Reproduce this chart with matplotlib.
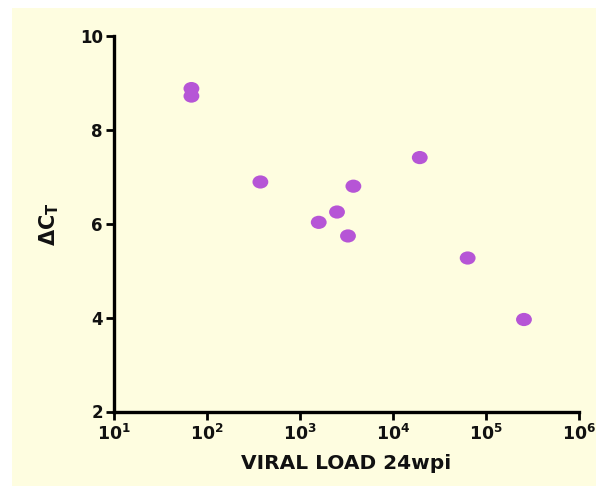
import math
import matplotlib
matplotlib.use("Agg")
import matplotlib.pyplot as plt
from matplotlib.patches import Rectangle
from matplotlib.path import Path
from matplotlib.ticker import FixedLocator, FuncFormatter, NullLocator

plt.rcParams['font.family'] = ['DejaVu Sans']
plt.rcParams['font.weight'] = 'bold'
plt.rcParams['mathtext.fontset'] = 'custom'
plt.rcParams['mathtext.rm'] = 'DejaVu Sans:bold'
plt.rcParams['mathtext.bf'] = 'DejaVu Sans:bold'
plt.rcParams['mathtext.it'] = 'DejaVu Sans:bold'

# viral load at 24 wpi vs delta Ct
viral_load = [68, 68, 375, 1590, 2500, 3280, 3750, 19400, 63500, 256000]
delta_ct = [8.88, 8.72, 6.89, 6.03, 6.25, 5.74, 6.80, 7.41, 5.27, 3.96]

x_ticks = [1e1, 1e2, 1e3, 1e4, 1e5, 1e6]
y_ticks = [2, 4, 6, 8, 10]

cream = '#fefde0'
purple = '#b655d6'
ink = '#111111'

fig = plt.figure(figsize=(5.96, 4.86), dpi=100)
fig.patch.set_facecolor('white')
fig.patches.append(Rectangle((12/596, 0), 1, 1 - 8/486, transform=fig.transFigure,
                             facecolor=cream, edgecolor='none', zorder=-10))

ax = fig.add_axes([114/596, 1 - 411.5/486, 465/596, 375.5/486])
ax.set_facecolor('none')

# slightly wide ellipse marker
circ = Path.unit_circle()
ell = Path(circ.vertices * [1.2, 1.0], circ.codes)
ax.scatter(viral_load, delta_ct, marker=ell, s=130, color=purple,
           edgecolors='none', zorder=3, clip_on=False)

ax.set_xscale('log')
ax.set_xlim(1e1, 1e6)
ax.set_ylim(2, 10)
ax.xaxis.set_major_locator(FixedLocator(x_ticks))
ax.xaxis.set_minor_locator(NullLocator())
ax.xaxis.set_major_formatter(FuncFormatter(lambda v, p: r'$\mathbf{10^{%d}}$' % round(math.log10(v))))
ax.set_yticks(y_ticks)

for s in ['top', 'right']:
    ax.spines[s].set_visible(False)
for s in ['left', 'bottom']:
    ax.spines[s].set_linewidth(2.4)
    ax.spines[s].set_color('black')

ax.tick_params(axis='both', direction='out', length=6, width=2, color='black',
               labelcolor=ink, labelsize=12, pad=2)
ax.tick_params(axis='x', labelsize=12.5, pad=3)

ax.set_xlabel('VIRAL LOAD 24wpi', fontsize=14.5, fontweight='bold', labelpad=7,
              color=ink)
ax.set_ylabel(r'$\mathbf{\Delta C_T}$', fontsize=15, color=ink)
ax.yaxis.set_label_coords(-0.115, 0.5)

fig.savefig('out.png', dpi=100, facecolor=fig.get_facecolor())
